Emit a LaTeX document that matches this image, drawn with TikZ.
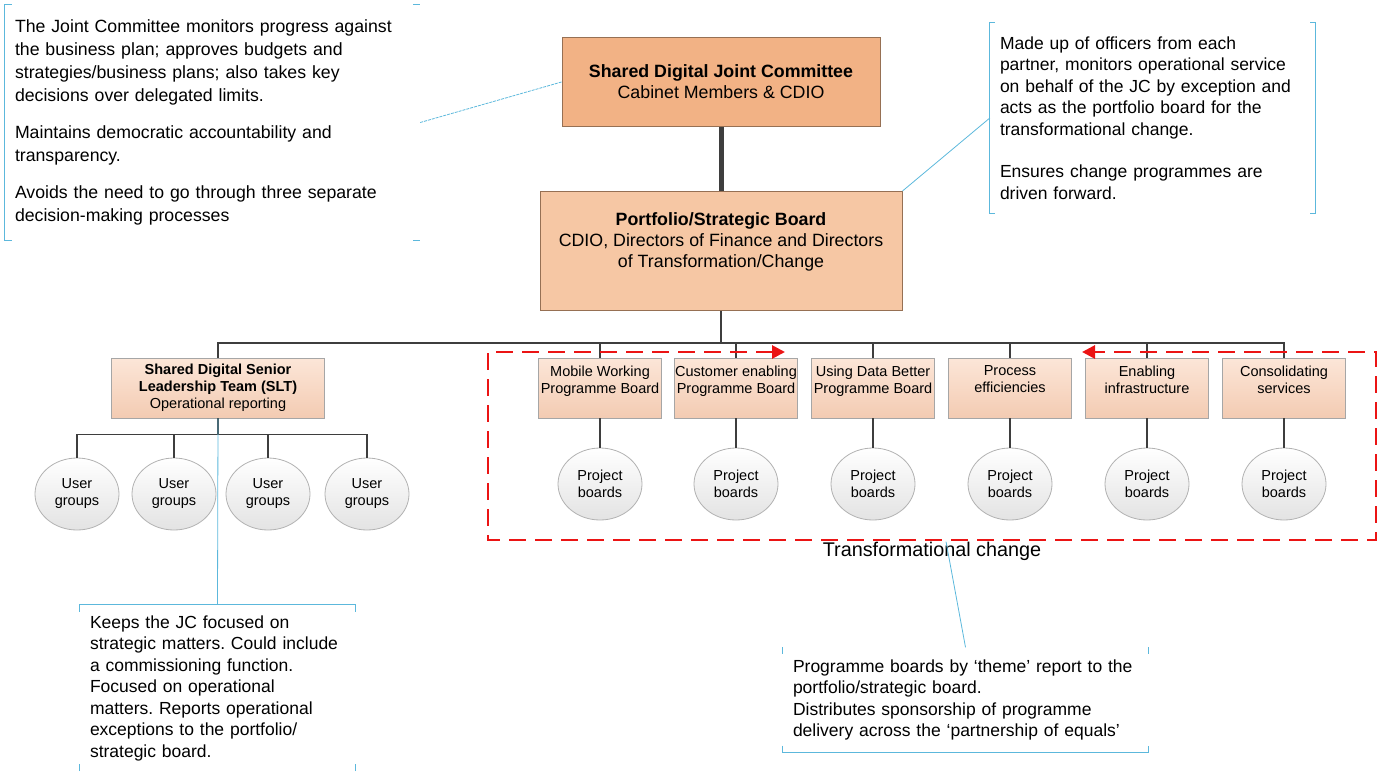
\documentclass[tikz,border=0pt]{standalone}
\usepackage{fontspec}
\setmainfont{Liberation Sans}
\usetikzlibrary{shapes.geometric,arrows.meta}
\frenchspacing

\definecolor{jcfill}{RGB}{242,178,133}
\definecolor{pbfill}{RGB}{246,199,164}
\definecolor{boxtop}{RGB}{252,230,216}
\definecolor{boxbottom}{RGB}{243,203,178}
\definecolor{boxline}{RGB}{150,112,84}
\definecolor{linkgray}{RGB}{62,62,62}
\definecolor{notecyan}{RGB}{92,184,220}
\definecolor{framered}{RGB}{235,20,20}

\begin{document}
\begin{tikzpicture}
[every node/.style={inner sep=0pt},
 bigbox/.style={rectangle, draw=boxline, line width=1pt, align=center, font=\fontsize{17.8}{21}\selectfont},
 smallbox/.style={rectangle, draw=gray!70, line width=0.8pt, top color=boxtop, bottom color=boxbottom,
   minimum width=123pt, minimum height=60pt, align=center, font=\fontsize{14.5}{17}\selectfont},
 oval/.style={ellipse, draw=gray!60, line width=0.8pt, top color=white, bottom color=gray!22,
   minimum width=84pt, minimum height=72pt, align=center, font=\fontsize{14.5}{17}\selectfont},
 note/.style={rectangle, inner xsep=10pt, align=left, font=\fontsize{17.5}{21.5}\selectfont},
 noteline/.style={draw=notecyan, line width=0.8pt},
 link/.style={draw=linkgray, line width=1.6pt},
 redframe/.style={draw=framered, line width=2.8pt, dash pattern=on 17pt off 9pt,
   {Triangle[length=13pt,width=13pt]}-{Triangle[length=13pt,width=13pt]}}]
\useasboundingbox (0pt,0pt) rectangle (1386pt,-771pt);

% top of the structure
\node (jc) [bigbox, fill=jcfill, minimum width=318pt, minimum height=89pt] at (721pt, -82pt) {\textbf{Shared Digital Joint Committee}\\Cabinet Members \& CDIO};
\node (pb) [bigbox, fill=pbfill, minimum width=362pt, minimum height=119pt] at (721pt, -251pt) {\textbf{Portfolio/Strategic Board}\\CDIO, Directors of Finance and Directors\\of Transformation/Change\\~};
\draw [draw=linkgray, line width=5pt] (jc) to (pb);

% senior leadership team and user groups
\node (slt) [smallbox, minimum width=213pt] at (218pt, -388pt) {\textbf{Shared Digital Senior}\\\textbf{Leadership Team (SLT)}\\Operational reporting};
\node (u1) [oval] at (77pt, -494pt) {User\\groups};
\node (u2) [oval] at (174pt, -494pt) {User\\groups};
\node (u3) [oval] at (268pt, -494pt) {User\\groups};
\node (u4) [oval] at (367pt, -494pt) {User\\groups};

% programme boards
\node (p1) [smallbox] at (600pt, -388pt) {Mobile Working\\Programme Board\\~};
\node (p2) [smallbox] at (736pt, -388pt) {Customer enabling\\Programme Board\\~};
\node (p3) [smallbox] at (873pt, -388pt) {Using Data Better\\Programme Board\\~};
\node (p4) [smallbox] at (1010pt, -388pt) {Process\\efficiencies\\~};
\node (p5) [smallbox] at (1147pt, -388pt) {Enabling\\infrastructure\\~};
\node (p6) [smallbox] at (1284pt, -388pt) {Consolidating\\services\\~};
\node (b1) [oval] at (600pt, -484pt) {Project\\boards};
\node (b2) [oval] at (736pt, -484pt) {Project\\boards};
\node (b3) [oval] at (873pt, -484pt) {Project\\boards};
\node (b4) [oval] at (1010pt, -484pt) {Project\\boards};
\node (b5) [oval] at (1147pt, -484pt) {Project\\boards};
\node (b6) [oval] at (1284pt, -484pt) {Project\\boards};

% tree lines
\draw [link] (pb.south) -- ++(0pt,-32pt) coordinate (hub);
\draw [link] (slt.north) |- (hub) -| (p6.north);
\draw [link] (p1.north) -- (p1.north |- hub);
\draw [link] (p2.north) -- (p2.north |- hub);
\draw [link] (p3.north) -- (p3.north |- hub);
\draw [link] (p4.north) -- (p4.north |- hub);
\draw [link] (p5.north) -- (p5.north |- hub);
\draw [link] (slt.south) -- ++(0pt,-16pt) coordinate (ughub);
\draw [link] (u1.north) |- (ughub) -| (u4.north);
\draw [link] (u2.north) -- (u2.north |- ughub);
\draw [link] (u3.north) -- (u3.north |- ughub);
\draw [link] (p1) -- (b1);
\draw [link] (p2) -- (b2);
\draw [link] (p3) -- (b3);
\draw [link] (p4) -- (b4);
\draw [link] (p5) -- (b5);
\draw [link] (p6) -- (b6);

% transformational change frame
\coordinate (frin) at (785pt, -352pt);
\coordinate (frout) at (1082pt, -352pt);
\draw [redframe] (frin) -- (488pt, -352pt) -- (488pt, -540pt) -- (1376pt, -540pt) -- (1376pt, -352pt) -- (frout);
\node (trlabel) [font=\fontsize{19.8}{22}\selectfont] at (932pt, -551pt) {Transformational change};

% annotations
\node (jcnote) [note, font=\fontsize{17.7}{23}\selectfont, text width=395pt, minimum height=236pt] at (212.5pt, -122.5pt)
  {The Joint Committee monitors progress against\\the business plan; approves budgets and\\strategies/business plans; also takes key\\decisions over delegated limits.\\[14pt]Maintains democratic accountability and\\transparency.\\[14pt]Avoids the need to go through three separate\\decision-making processes};
\node (pbnote) [note, text width=305pt, minimum height=190pt] at (1152.5pt, -118pt)
  {Made up of officers from each\\partner, monitors operational service\\on behalf of the JC by exception and\\acts as the portfolio board for the\\transformational change.\\[21pt]Ensures change programmes are\\driven forward.};
\node (sltnote) [note, text width=255pt, minimum height=166pt] at (217.5pt, -688pt)
  {Keeps the JC focused on\\strategic matters. Could include\\a commissioning function.\\Focused on operational\\matters. Reports operational\\exceptions to the portfolio/\\strategic board.};
\node (trnote) [note, text width=345pt, minimum height=105pt] at (965.5pt, -700pt)
  {Programme boards by `theme' report to the\\portfolio/strategic board.\\Distributes sponsorship of programme\\delivery across the `partnership of equals'};

% annotation brackets
\draw [noteline] ([xshift=7pt]jcnote.north west) -- (jcnote.north west) -- (jcnote.south west) -- ++(7pt,0pt);
\draw [noteline] ([xshift=-7pt]jcnote.north east) -- (jcnote.north east);
\draw [noteline] ([xshift=-7pt]jcnote.south east) -- (jcnote.south east);
\draw [noteline] ([xshift=5pt]pbnote.north west) -- (pbnote.north west) -- (pbnote.south west) -- ++(5pt,0pt);
\draw [noteline] ([xshift=-5pt]pbnote.north east) -- (pbnote.north east) -- (pbnote.south east) -- ++(-5pt,0pt);
\draw [noteline] ([yshift=-7pt]sltnote.north west) -- (sltnote.north west) -- (sltnote.north east) -- ++(0pt,-7pt);
\draw [noteline] (sltnote.south west) -- ++(0pt,7pt);
\draw [noteline] (sltnote.south east) -- ++(0pt,7pt);
\draw [noteline] ([yshift=7pt]trnote.south west) -- (trnote.south west) -- (trnote.south east) -- ++(0pt,7pt);
\draw [noteline] (trnote.north west) -- ++(0pt,-7pt);
\draw [noteline] (trnote.north east) -- ++(0pt,-7pt);

% annotation links
\draw [noteline, dashed, dash pattern=on 3pt off 1pt] (jcnote.east) -- (jc.west);
\draw [noteline] (pbnote.west) -- (pb.north east);
\draw [noteline] (slt.south) -- (sltnote.north);
\draw [noteline] ([xshift=14pt]trlabel.north) -- (trnote.north);
\end{tikzpicture}
\end{document}
